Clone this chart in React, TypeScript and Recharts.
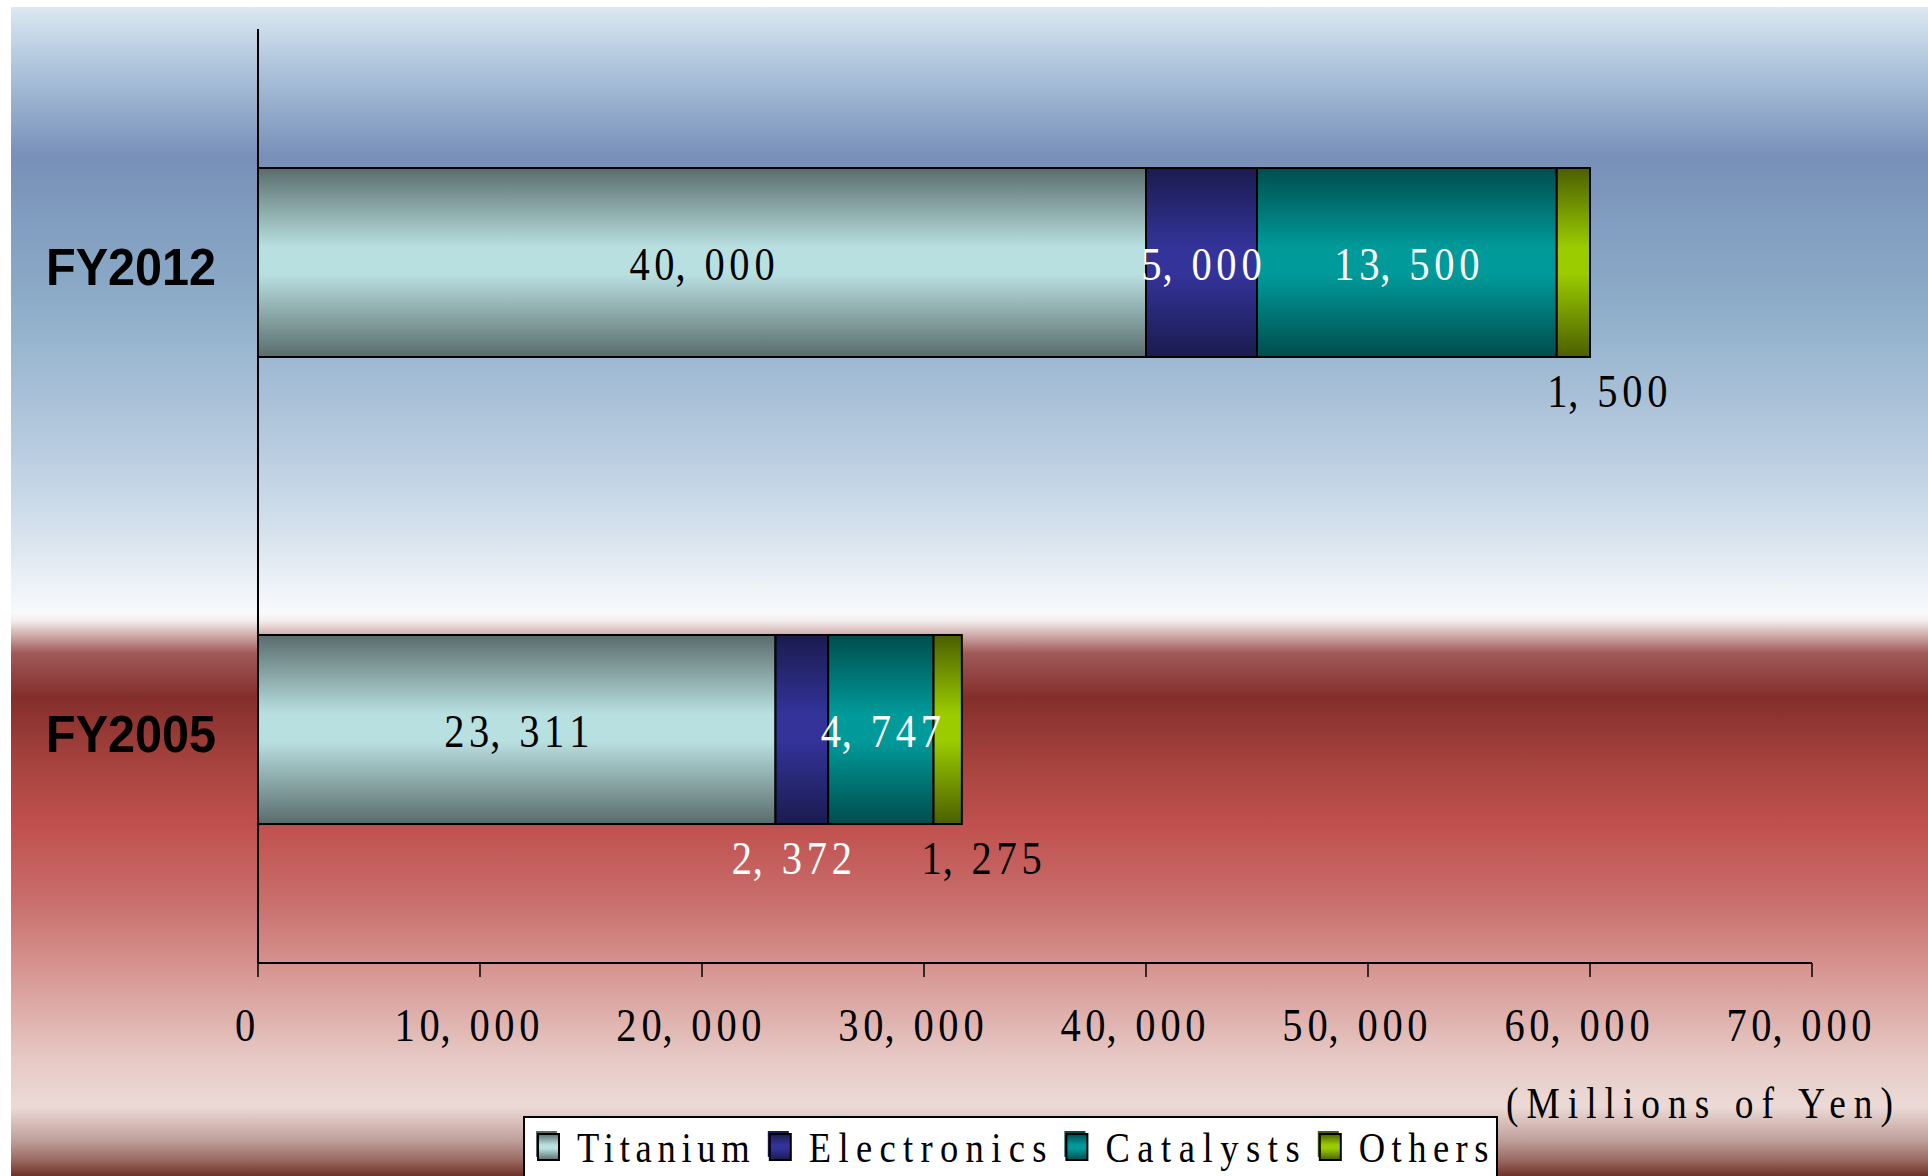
import React from 'react';
import { BarChart, Bar, XAxis, YAxis, LabelList, Legend } from 'recharts';

// values (millions of yen)
const years = ['FY2012', 'FY2005'];
const titanium = [40000, 23311];
const electronics = [5000, 2372];
const catalysts = [13500, 4747];
const others = [1500, 1275];
const xTicks = [0, 10000, 20000, 30000, 40000, 50000, 60000, 70000];
const unitLabel = '(Millions of Yen)';

const SERIF = '"Liberation Serif", "DejaVu Serif", serif';
const SANS = '"Liberation Sans", Arial, sans-serif';

const SERIES = [
  { key: 'titanium', name: 'Titanium', dark: '#5a6c6c', light: '#b9e0e1', labelColor: '#000', belowDx: 0 },
  { key: 'electronics', name: 'Electronics', dark: '#1b1b4f', light: '#33339a', labelColor: '#fff', belowDx: -10 },
  { key: 'catalysts', name: 'Catalysts', dark: '#004d4d', light: '#009a9a', labelColor: '#fff', belowDx: 0 },
  { key: 'others', name: 'Others', dark: '#4b5f00', light: '#9acc00', labelColor: '#000', belowDx: 34 },
];

const data = years.map((year, i) => ({
  year,
  titanium: titanium[i],
  electronics: electronics[i],
  catalysts: catalysts[i],
  others: others[i],
}));

const fmt = (v: number) => Number(v).toLocaleString('en-US');

const gradStops = (dark: string, light: string) => [
  <stop key='a' offset='0%' stopColor={dark} />,
  <stop key='b' offset='42%' stopColor={light} />,
  <stop key='c' offset='56%' stopColor={light} />,
  <stop key='d' offset='100%' stopColor={dark} />,
];

// numbers in the original are a monospaced mincho: every char in a fixed cell,
// the comma sitting to the left of its cell
const NUM_SX = 0.88;
function NumText({ x, y, text, fill = '#000', cell = 25, fontSize = 46 }: any) {
  const start = x - (text.length * cell) / 2;
  const xs = text.split('').map((ch: string, i: number) => {
    const c = start + (i + 0.5) * cell + (ch === ',' ? -9 : 0);
    return (c / NUM_SX).toFixed(2);
  });
  return (
    <text transform={`translate(0 ${y}) scale(${NUM_SX} 1)`} x={xs.join(' ')} y={0} textAnchor='middle'
      fill={fill} fontFamily={SERIF} fontSize={fontSize}>
      {text}
    </text>
  );
}

// latin text: narrowed, spread to the measured width
const TXT_SX = 0.85;
function WordText({ x, y, text, width, fontSize, anchor = 'start' }: any) {
  return (
    <text transform={`translate(${x} ${y}) scale(${TXT_SX} 1)`} x={0} y={0} textAnchor={anchor} fill='#000'
      fontFamily={SERIF} fontSize={fontSize} textLength={width / TXT_SX} lengthAdjust='spacing'
      style={{ whiteSpace: 'pre' }}>
      {text}
    </text>
  );
}

// segment label: centred when it fits, otherwise dropped under the bar
const renderSegmentLabel = (props: any, s: (typeof SERIES)[number]) => {
  const { x, y, width, height, value } = props;
  const narrow = width < 60;
  const cx = x + width / 2 + (narrow ? s.belowDx : 0);
  const baseline = narrow ? y + height + 50 : y + height / 2 + 17;
  return <NumText x={cx} y={baseline} text={fmt(value)} fill={s.labelColor} />;
};

const XTick = ({ x, y, payload }: any) => <NumText x={x - 13} y={y + 64} text={fmt(payload.value)} />;

const YTick = ({ x, y, payload }: any) => (
  <text x={x} y={y + 22} textAnchor='end' fill='#000' fontFamily={SANS} fontWeight='bold' fontSize={51}
    textLength={170} lengthAdjust='spacingAndGlyphs'>
    {payload.value}
  </text>
);

const UnitLabel = ({ viewBox }: any) => (
  <WordText x={viewBox.x + viewBox.width + 81} y={viewBox.y + 155} text={unitLabel} width={387} fontSize={44} anchor='end' />
);

const LegendBox = () => {
  let cursor = 13;
  const items = SERIES.map((s) => {
    const tw = s.name.length * 21.6;
    const item = { s, x: cursor, tw };
    cursor += 39 + tw + 20;
    return item;
  });
  return (
    <svg width={975} height={80} style={{ display: 'block' }}>
      <defs>
        {SERIES.map((s) => (
          <linearGradient key={s.key} id={`lg-${s.key}`} x1='0' y1='0' x2='0' y2='1'>
            {gradStops(s.dark, s.light)}
          </linearGradient>
        ))}
      </defs>
      <rect x={1} y={1} width={973} height={100} fill='#fff' stroke='#000' strokeWidth={2} />
      {items.map(({ s, x, tw }) => (
        <g key={s.key}>
          <rect x={x} y={15} width={21} height={26} fill={s.dark} />
          <rect x={x + 2} y={18} width={21} height={26} fill={`url(#lg-${s.key})`} stroke='#000' strokeWidth={2} />
          <WordText x={x + 41} y={46} text={s.name} width={tw} fontSize={43} />
        </g>
      ))}
    </svg>
  );
};

const BG = `linear-gradient(to bottom,
  #dce8f2 0px, #a8c0d8 68px, #7890b8 150px, #8cacc8 293px, #b8cce0 443px, #d4e0ec 520px,
  #f8fafc 606px, #f4ecec 614px, #a05a58 646px, #842e2c 690px, #a8443f 760px, #c0504d 818px,
  #c86e6c 893px, #d89894 968px, #e6c8c4 1050px, #ecdad6 1100px, #c0a09b 1133px, #9a6a64 1153px, #6e3028 1169px)`;

export default function App() {
  return (
    <div style={{ position: 'absolute', left: 0, top: 0, width: 1928, height: 1176, overflow: 'hidden', background: '#fff' }}>
      <div style={{ position: 'absolute', left: 11, top: 7, width: 1917, height: 1169, background: BG }} />
      <div style={{ position: 'absolute', left: 0, top: 0 }}>
        <BarChart width={1928} height={1176} data={data} layout='vertical'
          margin={{ top: 29, right: 116, bottom: 113, left: 0 }}>
          <defs>
            {SERIES.map((s) => (
              <linearGradient key={s.key} id={`g-${s.key}`} x1='0' y1='0' x2='0' y2='1'>
                {gradStops(s.dark, s.light)}
              </linearGradient>
            ))}
          </defs>
          <XAxis type='number' domain={[0, 70000]} ticks={xTicks} interval={0} height={100}
            axisLine={{ stroke: '#000', strokeWidth: 2 }} tickLine={{ stroke: '#000', strokeWidth: 1.5 }}
            tickSize={14} tickMargin={0} tick={<XTick />} label={<UnitLabel />} />
          <YAxis type='category' dataKey='year' width={258} axisLine={{ stroke: '#000', strokeWidth: 2 }}
            tickLine={false} tickSize={0} tickMargin={42} tick={<YTick />} />
          <Legend layout='horizontal' verticalAlign='middle' align='center'
            wrapperStyle={{ position: 'absolute', left: 523, top: 1116, width: 975, height: 80 }}
            content={() => <LegendBox />} />
          {SERIES.map((s) => (
            <Bar key={s.key} dataKey={s.key} name={s.name} stackId='a' barSize={189} fill={`url(#g-${s.key})`}
              stroke='#000' strokeWidth={2} isAnimationActive={false}>
              <LabelList dataKey={s.key} content={(p: any) => renderSegmentLabel(p, s)} />
            </Bar>
          ))}
        </BarChart>
      </div>
    </div>
  );
}
